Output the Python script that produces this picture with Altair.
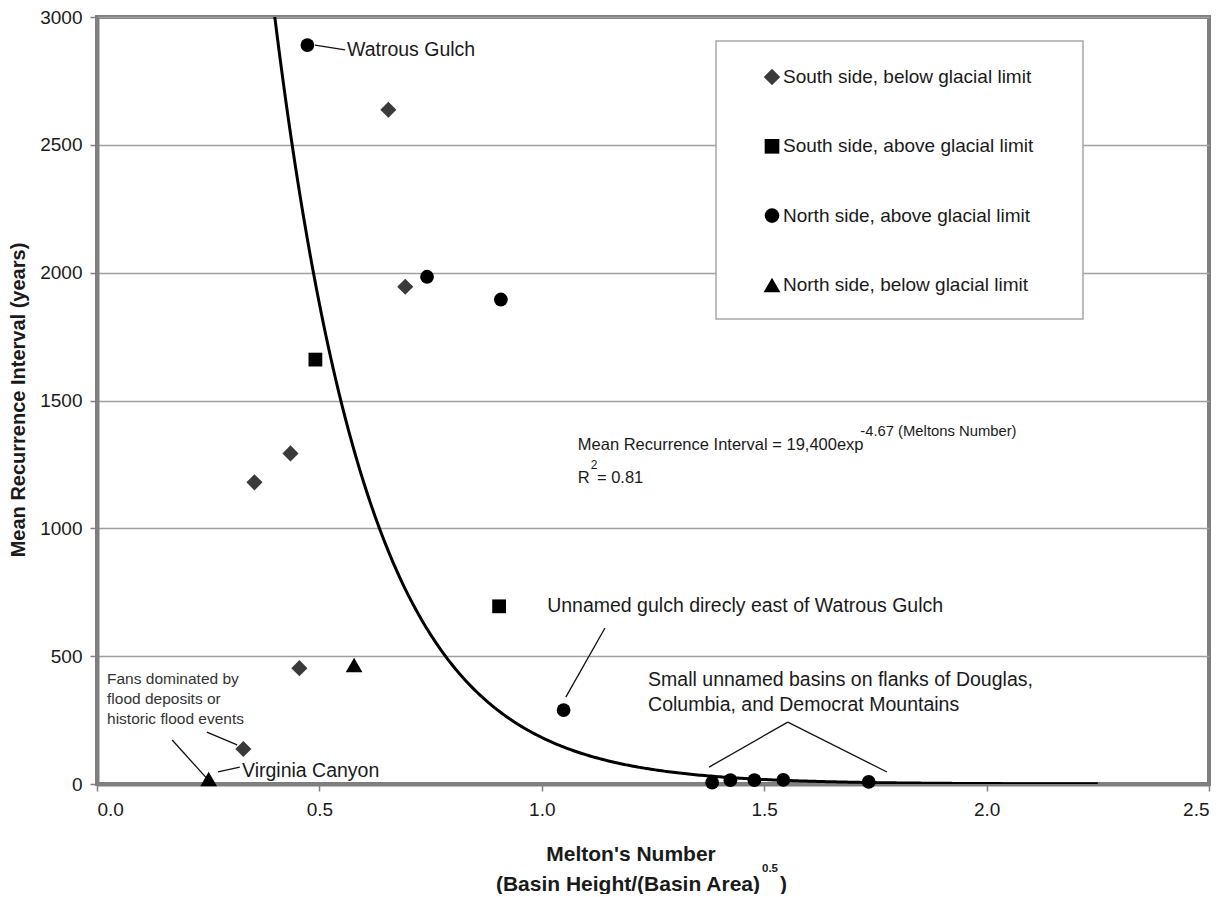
import altair as alt
import pandas as pd

FONT = "Liberation Sans"
TXT = "#1a1a1a"

# ---------------- data ----------------
series_names = [
    "South side, below glacial limit",
    "South side, above glacial limit",
    "North side, above glacial limit",
    "North side, below glacial limit",
]
series_shapes = ["diamond", "square", "circle", "triangle-up"]
series_colors = ["#3a3a3a", "#000000", "#000000", "#000000"]
series_sizes = [260, 190, 190, 280]

south_below_x = [0.329, 0.354, 0.435, 0.455, 0.655, 0.693]
south_below_y = [137, 1180, 1293, 453, 2637, 1945]

south_above_x = [0.491, 0.904]
south_above_y = [1660, 695]

north_above_x = [0.473, 0.742, 0.908, 1.049, 1.383, 1.424, 1.478, 1.543, 1.735]
north_above_y = [2890, 1984, 1895, 289, 5, 15, 15, 16, 8]

north_below_x = [0.578, 0.251]
north_below_y = [465, 20]

# fitted curve: MRI = 19,400 exp(-4.67 M)
FIT_A = 19400
FIT_B = -4.67
FIT_START = 0.395
FIT_END = 2.25

x_ticks = [0.0, 0.5, 1.0, 1.5, 2.0, 2.5]
y_ticks = [0, 500, 1000, 1500, 2000, 2500, 3000]

# annotations (data coordinates)
ann_text = [
    "Watrous Gulch",
    "Virginia Canyon",
    "Unnamed gulch direcly east of Watrous Gulch",
    "Small unnamed basins on flanks of Douglas,",
    "Columbia, and Democrat Mountains",
]
ann_x = [0.562, 0.326, 1.012, 1.239, 1.239]
ann_y = [2871, 51, 696, 407, 309]

fans_text = ["Fans dominated by", "flood deposits or", "historic flood events"]
fans_x = [0.0225, 0.0225, 0.0225]
fans_y = [411, 333, 254]

# leader lines (x, y, x2, y2)
lead_x = [0.490, 0.169, 0.247, 0.272, 1.054, 1.376, 1.553]
lead_y = [2890, 172, 203, 47, 340, 66, 242]
lead_x2 = [0.558, 0.250, 0.315, 0.321, 1.142, 1.553, 1.776]
lead_y2 = [2871, 16, 153, 66, 610, 242, 47]

# equation pieces: text, x, y, font size
eq_text = ["Mean Recurrence Interval = 19,400exp", "-4.67 (Meltons Number)", "R", "2", "= 0.81"]
eq_x = [1.081, 1.716, 1.081, 1.110, 1.124]
eq_y = [1326, 1375, 1197, 1246, 1197]
eq_size = [16.5, 14.8, 16.5, 12, 16.5]

# ---------------- frames ----------------
rows = []
for name, xs, ys in [
    (series_names[0], south_below_x, south_below_y),
    (series_names[1], south_above_x, south_above_y),
    (series_names[2], north_above_x, north_above_y),
    (series_names[3], north_below_x, north_below_y),
]:
    for a, b in zip(xs, ys):
        rows.append({"series": name, "m": a, "mri": b})
pts = pd.DataFrame(rows)

X = alt.X("m:Q", scale=alt.Scale(domain=[0, 2.5], nice=False),
          axis=alt.Axis(values=x_ticks, format=".1f", title=None, grid=False))
Y = alt.Y("mri:Q", scale=alt.Scale(domain=[0, 3000], nice=False),
          axis=alt.Axis(values=y_ticks, format="d", title=None, grid=True))

curve = (
    alt.Chart(alt.sequence(FIT_START, FIT_END + 0.0001, 0.005, as_="m"))
    .transform_calculate(mri=f"{FIT_A}*exp({FIT_B}*datum.m)")
    .mark_line(color="black", strokeWidth=3, clip=True)
    .encode(x=X, y=Y)
)

point_layers = []
for i, name in enumerate(series_names):
    point_layers.append(
        alt.Chart(pts).transform_filter(alt.datum.series == name)
        .mark_point(shape=series_shapes[i], filled=True, opacity=1,
                    color=series_colors[i], size=series_sizes[i])
        .encode(x="m:Q", y="mri:Q")
    )

leads = alt.Chart(pd.DataFrame({"m": lead_x, "mri": lead_y, "m2": lead_x2, "mri2": lead_y2})).mark_rule(
    color="#111", strokeWidth=1.3).encode(x="m:Q", y="mri:Q", x2="m2:Q", y2="mri2:Q")

ann = alt.Chart(pd.DataFrame({"t": ann_text, "m": ann_x, "mri": ann_y})).mark_text(
    align="left", baseline="middle", font=FONT, fontSize=19.5, color=TXT).encode(
    x="m:Q", y="mri:Q", text="t:N")

fans = alt.Chart(pd.DataFrame({"t": fans_text, "m": fans_x, "mri": fans_y})).mark_text(
    align="left", baseline="middle", font=FONT, fontSize=15.5, color="#333").encode(
    x="m:Q", y="mri:Q", text="t:N")

eq_layers = []
for t, a, b, s in zip(eq_text, eq_x, eq_y, eq_size):
    eq_layers.append(
        alt.Chart(pd.DataFrame({"t": [t], "m": [a], "mri": [b]})).mark_text(
            align="left", baseline="middle", font=FONT, fontSize=s, color=TXT
        ).encode(x="m:Q", y="mri:Q", text="t:N")
    )

layers = [curve, leads] + point_layers + [ann, fans] + eq_layers

# ---------------- legend (manual) ----------------
LEG_L, LEG_R, LEG_T, LEG_B = 619, 986, 24, 302
legend_box = alt.Chart(pd.DataFrame({"a": [0]})).mark_rect(
    fill="white", stroke="#a8a8a8", strokeWidth=1.5).encode(
    x=alt.value(LEG_L), x2=alt.value(LEG_R), y=alt.value(LEG_T), y2=alt.value(LEG_B))
layers.append(legend_box)
leg_sizes = [270, 215, 215, 280]
for i, name in enumerate(series_names):
    ry = 60 + i * 69.3
    layers.append(
        alt.Chart(pd.DataFrame({"a": [0]})).mark_point(
            shape=series_shapes[i], filled=True, opacity=1, color=series_colors[i], size=leg_sizes[i]
        ).encode(x=alt.value(675), y=alt.value(ry))
    )
    layers.append(
        alt.Chart(pd.DataFrame({"t": [name]})).mark_text(
            align="left", baseline="middle", font=FONT, fontSize=19, color=TXT
        ).encode(x=alt.value(686), y=alt.value(ry), text="t:N")
    )

# ---------------- axis titles (manual) ----------------
def ptext(s, px, py, size, align="center", angle=0, weight="bold"):
    kw = dict(align=align, baseline="middle", font=FONT, fontSize=size, color=TXT, fontWeight=weight)
    if angle:
        kw["angle"] = angle
    return alt.Chart(pd.DataFrame({"t": [s]})).mark_text(**kw).encode(
        x=alt.value(px), y=alt.value(py), text="t:N")

layers += [
    ptext("Melton's Number", 534, 838, 21),
    ptext("(Basin Height/(Basin Area)", 663, 868, 21, align="right"),
    ptext("0.5", 665, 852, 11.5, align="left"),
    ptext(")", 683, 868, 21, align="left"),
    ptext("Mean Recurrence Interval (years)", -78, 383, 20, angle=270),
]

chart = (
    alt.layer(*layers)
    .properties(
        width=1112, height=767,
        padding={"left": 89, "top": 9, "right": 10, "bottom": 110},
        autosize=alt.AutoSizeParams(type="none"),
    )
    .configure_view(stroke="#7f7f7f", strokeWidth=4)
    .configure_axis(
        labelFont=FONT, labelFontSize=19, labelColor=TXT,
        domainColor="#7f7f7f", domainWidth=4,
        tickColor="#7f7f7f", tickWidth=1.5, tickSize=7,
        gridColor="#a0a0a0", gridWidth=1.5,
    )
    .configure_axisY(labelPadding=8)
    .configure_axisX(labelPadding=9)
)

chart.save("out.html", embed_options={"renderer": "svg", "actions": False})
